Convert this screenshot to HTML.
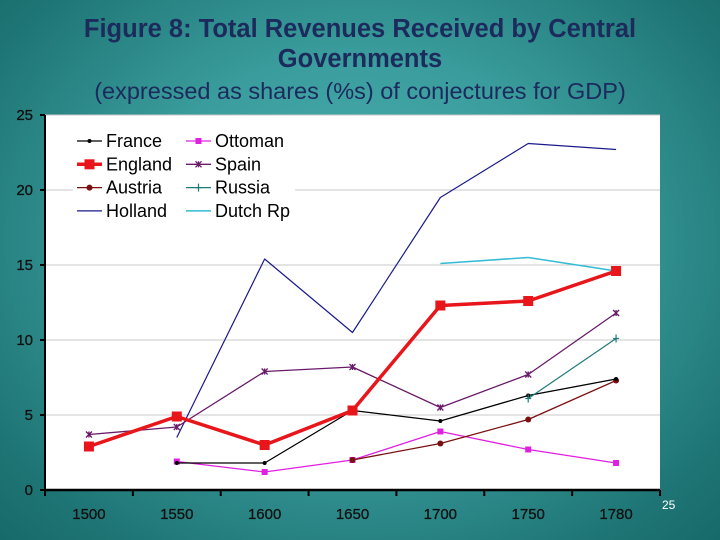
<!DOCTYPE html>
<html><head><meta charset="utf-8"><style>
html,body{margin:0;padding:0}
body{width:720px;height:540px;overflow:hidden;background:radial-gradient(ellipse at 50% 45%,#4fb3b3 0%,#3a9c9c 45%,#1e7474 85%,#176a6a 100%);font-family:"Liberation Sans",sans-serif;position:relative}
.t{position:absolute;left:0;width:720px;text-align:center;color:#1c2a5c}
</style></head><body>
<div class="t" style="top:14px;font-size:25.5px;font-weight:bold;line-height:30px">Figure 8: Total Revenues Received by Central<br>Governments</div>
<div class="t" style="top:78px;font-size:23.5px">(expressed as shares (%s) of conjectures for GDP)</div>
<svg id="c" width="720" height="540" style="position:absolute;left:0;top:0"></svg>
<script>
const categories=["1500","1550","1600","1650","1700","1750","1780"];
const yTicks=[0,5,10,15,20,25];
const france=[null,1.8,1.8,5.3,4.6,6.3,7.4];
const england=[2.9,4.9,3.0,5.3,12.3,12.6,14.6];
const austria=[null,null,null,2.0,3.1,4.7,7.3];
const holland=[null,3.5,15.4,10.5,19.5,23.1,22.7];
const ottoman=[null,1.9,1.2,2.0,3.9,2.7,1.8];
const spain=[3.7,4.2,7.9,8.2,5.5,7.7,11.8];
const russia=[null,null,null,null,null,6.1,10.1];
const dutch=[null,null,null,null,15.1,15.5,14.6];
const L=45,R=660,T=115,B=490,ymax=25;
const X=i=>L+(R-L)/categories.length*(i+0.5);
const Y=v=>B-(B-T)*v/ymax;
const svg=document.getElementById('c');const NS='http://www.w3.org/2000/svg';
function mk(t,a,p){const e=document.createElementNS(NS,t);for(const k in a)e.setAttribute(k,a[k]);(p||svg).appendChild(e);return e;}
const plot=mk('rect',{x:L,y:T,width:R-L,height:B-T,fill:'#fff'});


yTicks.forEach(v=>{
 if(v>0){const g=mk('line',{x1:L,x2:R,y1:Y(v),y2:Y(v),stroke:'#c8c8c8','stroke-width':1});
 
 }
 mk('line',{x1:L-5,x2:L,y1:Y(v),y2:Y(v),stroke:'#000','stroke-width':2});
 const t=mk('text',{x:L-12,y:Y(v)+5,'text-anchor':'end','font-size':15,fill:'#111','stroke':'#111','stroke-width':0.3});t.textContent=v;
 
 
});
categories.forEach((c,i)=>{
 const t=mk('text',{x:X(i),y:B+29,'text-anchor':'middle','font-size':15,fill:'#111','stroke':'#111','stroke-width':0.3});t.textContent=c;
 
 
});
for(let i=0;i<=categories.length;i++){const x=L+(R-L)/categories.length*i;mk('line',{x1:x,x2:x,y1:B,y2:B+6,stroke:'#000','stroke-width':2});}
mk('line',{x1:L,x2:L,y1:T,y2:B,stroke:'#000','stroke-width':2});
mk('line',{x1:L,x2:R,y1:B,y2:B,stroke:'#000','stroke-width':2.5});
const lb=mk('rect',{x:73,y:125,width:222,height:100,fill:'#fff'});


function marker(type,x,y,col,g){
 if(type==='dot')mk('circle',{cx:x,cy:y,r:2,fill:col},g);
 else if(type==='bigsq')mk('rect',{x:x-5,y:y-5,width:10,height:10,fill:col},g);
 else if(type==='circ')mk('circle',{cx:x,cy:y,r:3,fill:col},g);
 else if(type==='sq')mk('rect',{x:x-3,y:y-3,width:6,height:6,fill:col},g);
 else if(type==='star'){mk('path',{d:`M${x-3} ${y-3}L${x+3} ${y+3}M${x+3} ${y-3}L${x-3} ${y+3}M${x} ${y-3}V${y+3}`,stroke:col,'stroke-width':1.3},g);}
 else if(type==='plus'){mk('path',{d:`M${x-3} ${y}H${x+3}M${x} ${y-4}V${y+4}`,stroke:col,'stroke-width':1.2},g);}
}
const series=[
 ['France',france,'#000',1.3,'dot',0,0],
 ['England',england,'#e8151b',3.5,'bigsq',0,1],
 ['Austria',austria,'#7a1010',1.3,'circ',0,2],
 ['Holland',holland,'#1a1a8a',1.2,null,0,3],
 ['Ottoman',ottoman,'#e020e0',1.3,'sq',1,0],
 ['Spain',spain,'#6a1a6a',1.3,'star',1,1],
 ['Russia',russia,'#1f7a7a',1.2,'plus',1,2],
 ['Dutch Rp',dutch,'#33bcd4',1.5,null,1,3]
];
const order=[3,7,4,2,0,6,5,1];
order.forEach(si=>{
 const [name,vals,col,w,m]=series[si];
 const g=mk('g',{});
 
 
 let d='';let pen=false;
 vals.forEach((v,i)=>{if(v==null){pen=false;return;}d+=(pen?'L':'M')+X(i)+' '+Y(v);pen=true;});
 mk('path',{d:d,fill:'none',stroke:col,'stroke-width':w,'stroke-linejoin':'round'},g);
 if(m)vals.forEach((v,i)=>{if(v!=null)marker(m,X(i),Y(v),col,g);});
});
series.forEach(([name,vals,col,w,m,c,r])=>{
 const x0=c?186:77,y0=141+r*23.3;
 const g=mk('g',{});
 
 
 mk('line',{x1:x0,x2:x0+25,y1:y0,y2:y0,stroke:col,'stroke-width':w},g);
 if(m)marker(m,x0+12.5,y0,col,g);
 const t=mk('text',{x:x0+29,y:y0+6,'font-size':18,fill:'#000'},g);t.textContent=name;
});
const pn=mk('text',{x:662,y:509,'font-size':12,fill:'#fff'});pn.textContent='25';


</script>
</body></html>
